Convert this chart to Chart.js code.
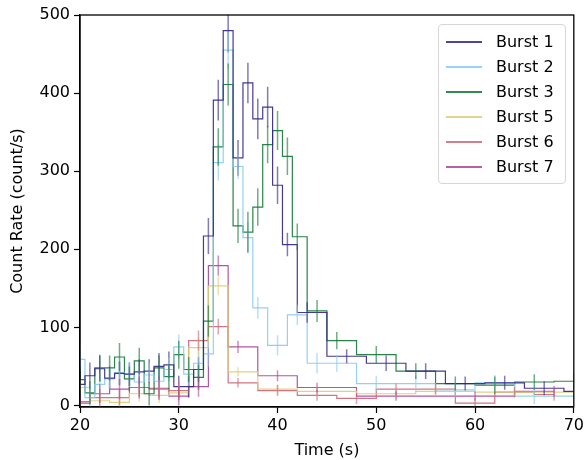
<!DOCTYPE html>
<html>
<head>
<meta charset="utf-8">
<script src="https://cdn.jsdelivr.net/npm/chart.js@4/dist/chart.umd.min.js"></script>
<style>
  body { margin: 0; background: #fff; }
  #wrap { position: relative; width: 587px; height: 460px; }
  #legend {
    position: absolute; left: 438px; top: 24px; width: 126px; height: 154px;
    border: 1px solid #d6d6d6; border-radius: 4px; background: rgba(255,255,255,0.85);
    font-family: "DejaVu Sans", sans-serif; font-size: 16px; color: #000;
    padding-top: 4px; box-sizing: content-box;
  }
  #legend .row { height: 25px; line-height: 25px; display: flex; align-items: flex-start; }
  #legend .swatch { display: inline-block; width: 36px; height: 2px; margin-top: 12px; margin-left: 7px; margin-right: 14px; }
</style>
</head>
<body>
<div id="wrap">
  <canvas id="chart" width="587" height="460"></canvas>
  <div id="legend"></div>
</div>
<script>
// times (s), count rates and error bars for each burst
const t1 = [20,21,22,23,24,25,26,27,28,29,30,31,32,33,34,35,36,37,38,39,40,41,43,47,51,55,59,63,67,71];
const y1 = [27,38,47,35,41,40,43,44,50,52,24,24,46,217,391,480,317,413,367,382,282,206,119,63,54,44,28,29,22,18];
const e1 = [16,17,17,15,15,15,16,15,17,17,14,14,16,23,26,28,23,26,26,26,24,15,13,9,10,10,9,9,9,8];

const t2 = [20,21,22,23,24,25,26,27,28,29,30,31,32,33,34,35,36,37,38,40,42,44,46,50,54,58,62,66,70];
const y2 = [59,10,27,34,42,40,30,39,31,46,75,40,54,66,311,455,306,215,125,77,116,54,54,28,28,20,29,12,12];
const e2 = [15,14,14,14,15,15,14,15,14,15,16,15,15,16,23,24,16,20,14,13,13,13,11,10,10,9,10,10,9];

const t3 = [20,21,22,23,24,25,26,27,28,29,30,31,32,33,34,35,36,37,38,39,40,41,42,44,46,50,54,58,62,66,70];
const y3 = [33,16,48,48,62,34,57,15,48,37,65,46,36,108,331,411,230,222,254,334,352,319,216,121,83,65,44,28,26,30,31];
const e3 = [16,15,17,16,18,16,17,15,16,16,18,16,16,20,24,27,22,26,24,24,25,24,17,14,11,11,10,9,11,10,10];

const t5 = [20,22,24,26,28,30,32,34,36,40,44,52,56,64,72];
const y5 = [23,6,4,15,13,16,74,153,43,21,18,15,18,17,17];
const e5 = [10,9,9,10,10,10,13,12,6,6,6,6,6,6,6];

const t6 = [20,22,24,26,28,30,32,34,36,40,44,48,52,56,60,64,68];
const y6 = [5,10,10,23,21,19,83,101,29,19,13,9,21,21,3,17,14];
const e6 = [10,11,10,12,11,12,13,10,6,7,7,7,7,7,7,7,8];

const t7 = [20,22,24,26,28,30,32,34,36,40,44,52,60,68];
const y7 = [3,15,21,23,22,12,24,179,75,38,23,12,12,18];
const e7 = [12,12,13,14,15,12,13,13,8,7,6,6,6,7];

const labels = ["Burst 1", "Burst 2", "Burst 3", "Burst 5", "Burst 6", "Burst 7"];
const colors = ["51,34,136", "136,204,238", "17,119,51", "221,204,119", "204,102,119", "170,68,153"];
const xTicks = [20, 30, 40, 50, 60, 70];
const yTicks = [0, 100, 200, 300, 400, 500];

const series = [[t1, y1, e1], [t2, y2, e2], [t3, y3, e3], [t5, y5, e5], [t6, y6, e6], [t7, y7, e7]];

const datasets = series.map((s, k) => ({
  label: labels[k],
  data: s[0].map((t, i) => ({ x: t, y: s[1][i] })),
  errors: s[2],
  stepped: "middle",
  borderColor: "rgba(" + colors[k] + ",0.9)",
  errColor: "rgba(" + colors[k] + ",0.6)",
  keyColor: "rgba(" + colors[k] + ",0.85)",
  borderWidth: 1.2,
  pointRadius: 0,
  fill: false
}));

// vertical error bars at each point
const errorBars = {
  id: "errorBars",
  afterDatasetsDraw(chart) {
    const { ctx, chartArea, scales } = chart;
    ctx.save();
    ctx.beginPath();
    ctx.rect(chartArea.left, chartArea.top, chartArea.width, chartArea.height);
    ctx.clip();
    ctx.lineWidth = 1.5;
    chart.data.datasets.forEach(ds => {
      ctx.strokeStyle = ds.errColor;
      ds.data.forEach((p, i) => {
        const px = scales.x.getPixelForValue(p.x);
        ctx.beginPath();
        ctx.moveTo(px, scales.y.getPixelForValue(p.y - ds.errors[i]));
        ctx.lineTo(px, scales.y.getPixelForValue(p.y + ds.errors[i]));
        ctx.stroke();
      });
    });
    ctx.restore();
  }
};

// full box round the plot
const frame = {
  id: "frame",
  afterDraw(chart) {
    const a = chart.chartArea;
    const ctx = chart.ctx;
    ctx.save();
    ctx.strokeStyle = "#000";
    ctx.lineWidth = 1.3;
    ctx.strokeRect(a.left, a.top, a.right - a.left, a.bottom - a.top);
    ctx.restore();
  }
};

const font = { family: "'DejaVu Sans', sans-serif", size: 16 };

const chart = new Chart(document.getElementById("chart"), {
  type: "line",
  data: { datasets: datasets },
  options: {
    responsive: false,
    animation: false,
    layout: { padding: { top: 15, right: 13, left: 0, bottom: 0 } },
    plugins: { legend: { display: false }, tooltip: { enabled: false } },
    scales: {
      x: {
        type: "linear", min: 20, max: 70,
        afterBuildTicks: s => { s.ticks = xTicks.map(v => ({ value: v })); },
        afterFit: s => { s.height = 53; },
        grid: { drawOnChartArea: false, drawTicks: true, tickLength: 6, tickColor: "#000", tickWidth: 1.2 },
        border: { display: true, color: "#000", width: 1.3 },
        ticks: { font: font, color: "#000", padding: 3, maxRotation: 0 },
        title: { display: true, text: "Time (s)", font: font, color: "#000", padding: { top: 4, bottom: 0 } }
      },
      y: {
        type: "linear", min: -2, max: 500,
        afterBuildTicks: s => { s.ticks = yTicks.map(v => ({ value: v })); },
        afterFit: s => { s.width = 80; },
        grid: { drawOnChartArea: false, drawTicks: true, tickLength: 6, tickColor: "#000", tickWidth: 1.2 },
        border: { display: true, color: "#000", width: 1.3 },
        ticks: { font: font, color: "#000", padding: 4 },
        title: { display: true, text: "Count Rate (count/s)", font: font, color: "#000", padding: { top: 8, bottom: 0 } }
      }
    }
  },
  plugins: [errorBars, frame]
});

// legend inside the plot, built from the datasets
const legend = document.getElementById("legend");
chart.data.datasets.forEach(ds => {
  const row = document.createElement("div");
  row.className = "row";
  const sw = document.createElement("span");
  sw.className = "swatch";
  sw.style.background = ds.keyColor;
  const txt = document.createElement("span");
  txt.textContent = ds.label;
  row.appendChild(sw);
  row.appendChild(txt);
  legend.appendChild(row);
});
</script>
</body>
</html>
